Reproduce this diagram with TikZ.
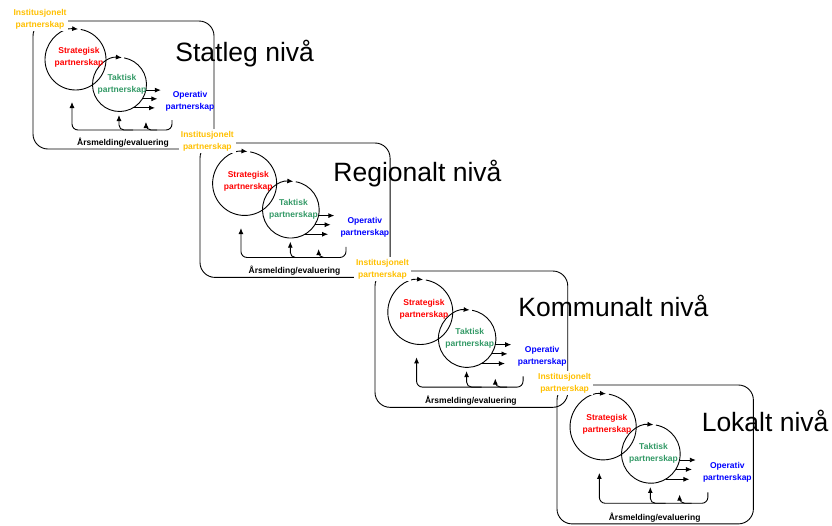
\documentclass[tikz,border=0pt]{standalone}
\usepackage{fontspec}
\setmainfont{Liberation Sans}
\usetikzlibrary{arrows.meta}

\definecolor{instgul}{HTML}{FFC000}
\definecolor{stratraud}{HTML}{FF0000}
\definecolor{taktgronn}{HTML}{339966}
\definecolor{operblaa}{HTML}{0000FF}

\begin{document}
\begin{tikzpicture}[x=1pt,y=1pt,line width=0.9pt,
	pil/.style={-{Latex[length=6pt,width=5pt]}},
	liten/.style={font=\fontsize{8.5}{12}\selectfont\bfseries,align=center,inner sep=1pt},
	inst/.style={liten,text=instgul,fill=white,inner sep=2pt},
	strat/.style={liten,text=stratraud},
	takt/.style={liten,text=taktgronn},
	oper/.style={liten,text=operblaa},
	tittel/.style={font=\fontsize{26.5}{30}\selectfont,anchor=base west,inner sep=0pt}]
	\useasboundingbox (0,0) rectangle (832,-525);
		\begin{scope}[shift={(33,-21)}]
			\draw[rounded corners=15] (0,0) rectangle (181,-128);
			\coordinate (sc) at (42.5,-38.5);
			\coordinate (tc) at (86.5,-63.5);
			\draw[pil] (sc) ++(80:30.5) arc (440:85:30.5);
			\draw[pil] (tc) ++(80:27) arc (440:85:27);
			\draw[pil] (tc) ++(-12:27) -- ++(15,0);
			\draw[pil] (tc) ++(-32:27) -- ++(15,0);
			\draw[pil] (tc) ++(-60:27) -- ++(22,0);
			\coordinate (fb) at (139,-99);
			\draw[pil,rounded corners=6] (fb) |- ++(-100,-10) -- ++(0,28);
			\draw[pil,rounded corners=5] (100,-109) -| (86,-94);
			\draw[pil,rounded corners=5] (124,-109) -| (113,-101);
			\node[strat] (strat) at (46,-36) {Strategisk\\partnerskap};
			\node[takt] (takt) at (89,-63) {Taktisk\\partnerskap};
			\node[oper] (oper) at (157,-80) {Operativ\\partnerskap};
			\node[liten] (aar) at (90,-122) {Årsmelding/evaluering};
			\node[inst] (inst) at (7,2) {Institusjonelt\\partnerskap};
			\node[tittel] (tittel) at (142,-40) {Statleg nivå};
		\end{scope}
		\begin{scope}[shift={(200,-143)},scale=1.05]
			\draw[rounded corners=15] (0,0) rectangle (181,-128);
			\coordinate (sc) at (42.5,-38.5);
			\coordinate (tc) at (86.5,-63.5);
			\draw[pil] (sc) ++(80:30.5) arc (440:85:30.5);
			\draw[pil] (tc) ++(80:27) arc (440:85:27);
			\draw[pil] (tc) ++(-12:27) -- ++(15,0);
			\draw[pil] (tc) ++(-32:27) -- ++(15,0);
			\draw[pil] (tc) ++(-60:27) -- ++(22,0);
			\coordinate (fb) at (139,-99);
			\draw[pil,rounded corners=6] (fb) |- ++(-100,-10) -- ++(0,28);
			\draw[pil,rounded corners=5] (100,-109) -| (86,-94);
			\draw[pil,rounded corners=5] (124,-109) -| (113,-101);
			\node[strat] (strat) at (46,-36) {Strategisk\\partnerskap};
			\node[takt] (takt) at (89,-63) {Taktisk\\partnerskap};
			\node[oper] (oper) at (157,-80) {Operativ\\partnerskap};
			\node[liten] (aar) at (90,-122) {Årsmelding/evaluering};
			\node[inst] (inst) at (7,2) {Institusjonelt\\partnerskap};
			\node[tittel] (tittel) at (126.7,-36.2) {Regionalt nivå};
		\end{scope}
		\begin{scope}[shift={(375,-271)},scale=1.065]
			\draw[rounded corners=15] (0,0) rectangle (181,-128);
			\coordinate (sc) at (42.5,-38.5);
			\coordinate (tc) at (86.5,-63.5);
			\draw[pil] (sc) ++(80:30.5) arc (440:85:30.5);
			\draw[pil] (tc) ++(80:27) arc (440:85:27);
			\draw[pil] (tc) ++(-12:27) -- ++(15,0);
			\draw[pil] (tc) ++(-32:27) -- ++(15,0);
			\draw[pil] (tc) ++(-60:27) -- ++(22,0);
			\coordinate (fb) at (139,-99);
			\draw[pil,rounded corners=6] (fb) |- ++(-100,-10) -- ++(0,28);
			\draw[pil,rounded corners=5] (100,-109) -| (86,-94);
			\draw[pil,rounded corners=5] (124,-109) -| (113,-101);
			\node[strat] (strat) at (46,-36) {Strategisk\\partnerskap};
			\node[takt] (takt) at (89,-63) {Taktisk\\partnerskap};
			\node[oper] (oper) at (157,-80) {Operativ\\partnerskap};
			\node[liten] (aar) at (90,-122) {Årsmelding/evaluering};
			\node[inst] (inst) at (7,2) {Institusjonelt\\partnerskap};
			\node[tittel] (tittel) at (134.3,-42.3) {Kommunalt nivå};
		\end{scope}
		\begin{scope}[shift={(557,-385)},scale=1.085]
			\draw[rounded corners=15] (0,0) rectangle (181,-128);
			\coordinate (sc) at (42.5,-38.5);
			\coordinate (tc) at (86.5,-63.5);
			\draw[pil] (sc) ++(80:30.5) arc (440:85:30.5);
			\draw[pil] (tc) ++(80:27) arc (440:85:27);
			\draw[pil] (tc) ++(-12:27) -- ++(15,0);
			\draw[pil] (tc) ++(-32:27) -- ++(15,0);
			\draw[pil] (tc) ++(-60:27) -- ++(22,0);
			\coordinate (fb) at (139,-99);
			\draw[pil,rounded corners=6] (fb) |- ++(-100,-10) -- ++(0,28);
			\draw[pil,rounded corners=5] (100,-109) -| (86,-94);
			\draw[pil,rounded corners=5] (124,-109) -| (113,-101);
			\node[strat] (strat) at (46,-36) {Strategisk\\partnerskap};
			\node[takt] (takt) at (89,-63) {Taktisk\\partnerskap};
			\node[oper] (oper) at (157,-80) {Operativ\\partnerskap};
			\node[liten] (aar) at (90,-122) {Årsmelding/evaluering};
			\node[inst] (inst) at (7,2) {Institusjonelt\\partnerskap};
			\node[tittel] (tittel) at (133,-42.4) {Lokalt nivå};
		\end{scope}
	\end{tikzpicture}
\end{document}
